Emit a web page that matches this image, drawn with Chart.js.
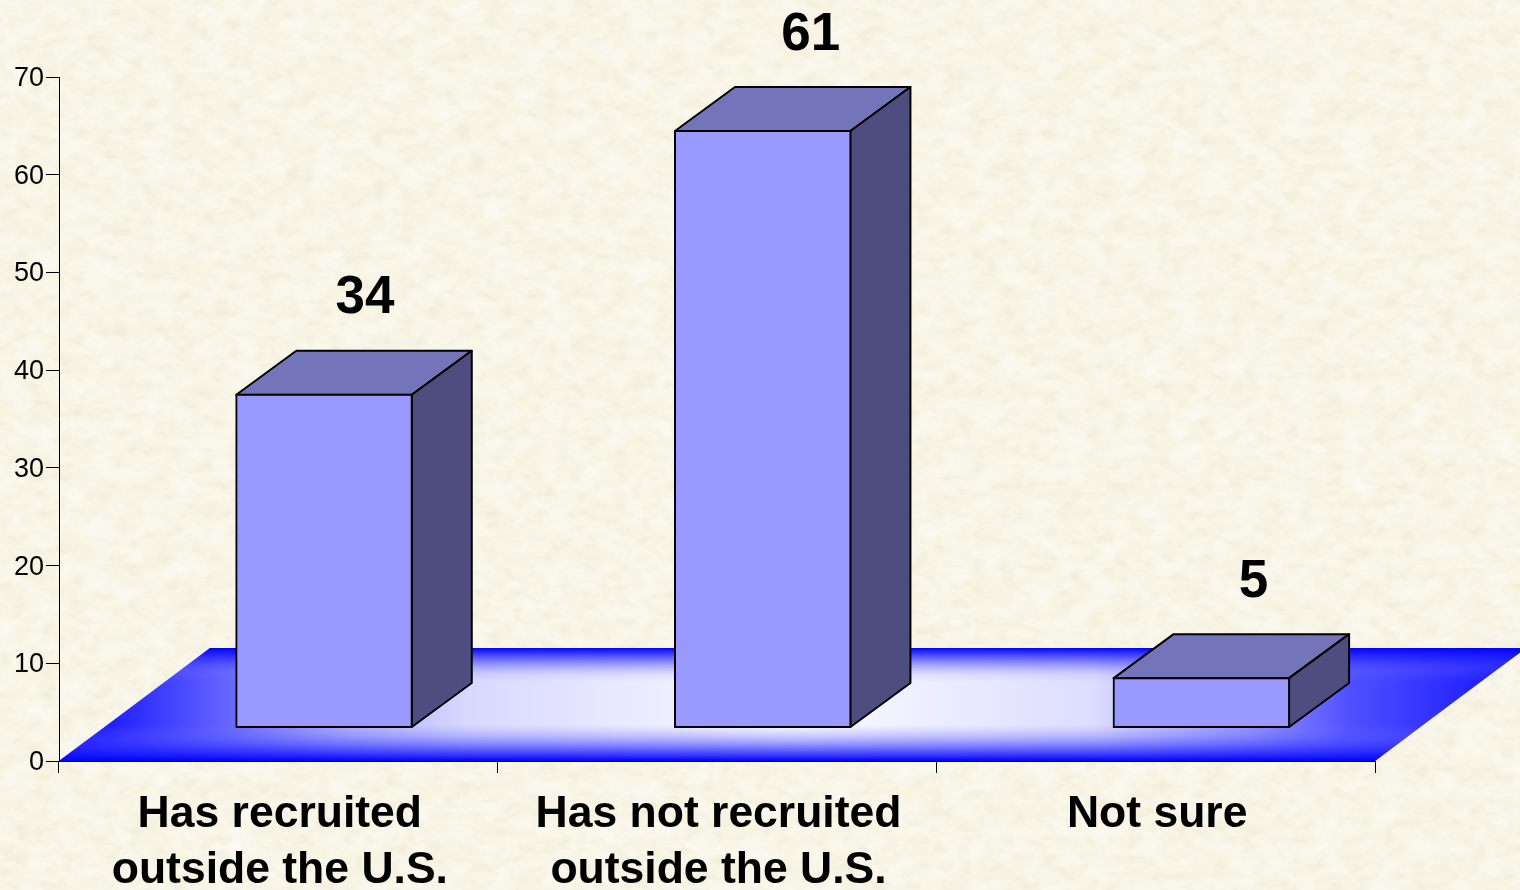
<!DOCTYPE html>
<html>
<head>
<meta charset="utf-8">
<title>Recruiting outside the U.S.</title>
<script src="https://cdn.jsdelivr.net/npm/chart.js@4/dist/chart.umd.min.js"></script>
<style>
    html, body { margin: 0; padding: 0; width: 1520px; height: 890px; overflow: hidden; background-color: #f8f5e5; }
    #paper { position: absolute; left: 0; top: 0; }
    #recruit_chart { position: absolute; left: 0; top: 0; }
</style>
</head>
<body>
<!-- paper texture behind the chart -->
<svg id="paper" width="1520" height="890" xmlns="http://www.w3.org/2000/svg">
    <filter id="mottle" x="0" y="0" width="100%" height="100%">
        <feTurbulence type="fractalNoise" baseFrequency="0.035 0.05" numOctaves="4" seed="7"/>
        <feColorMatrix type="matrix" values="0 0 0 0 1  0 0 0 0 1  0 0 0 0 0.98  1.1 0 0 0 -0.42"/>
    </filter>
    <filter id="grain" x="0" y="0" width="100%" height="100%">
        <feTurbulence type="fractalNoise" baseFrequency="0.07 0.11" numOctaves="3" seed="21"/>
        <feColorMatrix type="matrix" values="0 0 0 0 0.76  0 0 0 0 0.72  0 0 0 0 0.58  0 0.7 0 0 -0.28"/>
    </filter>
    <rect width="1520" height="890" fill="#f8f5e5"/>
    <rect width="1520" height="890" filter="url(#grain)"/>
    <rect width="1520" height="890" filter="url(#mottle)"/>
</svg>
<canvas id="recruit_chart" width="1520" height="890"></canvas>
<script>
// Values
const categories = [
    ["Has recruited", "outside the U.S."],
    ["Has not recruited", "outside the U.S."],
    "Not sure",
];
const values = [34, 61, 5];
const yMin = 0;
const yMax = 70;
const yStep = 10;

// Pseudo 3D look
const frontLift = 34; // front of the bars stands above the axis line
const frontShift = 45.7;
const depthX = 60;
const depthY = 44;
const floorDepthX = 151;
const floorDepthY = 113;
const labelShift = [41, 48, 52];
const labelRise = 52;

const plotHeight = 684;
const liftUnits = (frontLift / plotHeight) * (yMax - yMin);

// Floor under the bars, and the shape of each box around its front face
const box3d = {
    id: "box3d",
    beforeDraw(chart) {
        const ctx = chart.ctx;
        const left = chart.scales.x.left;
        const right = chart.scales.x.right;
        const bottom = chart.scales.y.getPixelForValue(0);
        const back = bottom - floorDepthY;

        ctx.save();
        ctx.beginPath();
        ctx.moveTo(left, bottom);
        ctx.lineTo(right, bottom);
        ctx.lineTo(right + floorDepthX, back);
        ctx.lineTo(left + floorDepthX, back);
        ctx.closePath();
        ctx.clip();

        const across = ctx.createLinearGradient(left, 0, right + floorDepthX, 0);
        across.addColorStop(0, "#0000ff");
        across.addColorStop(0.1, "#5858ff");
        across.addColorStop(0.155, "#8a8aff");
        across.addColorStop(0.2, "#b0b0ff");
        across.addColorStop(0.28, "#d8d8ff");
        across.addColorStop(0.5, "#fcfcff");
        across.addColorStop(0.705, "#dcdcff");
        across.addColorStop(0.815, "#9090ff");
        across.addColorStop(0.88, "#5050ff");
        across.addColorStop(1, "#1010ff");
        ctx.fillStyle = across;
        ctx.fillRect(left, back, right + floorDepthX - left, floorDepthY);

        const down = ctx.createLinearGradient(0, back, 0, bottom);
        down.addColorStop(0, "rgba(0,0,255,1)");
        down.addColorStop(0.106, "rgba(40,40,255,0.6)");
        down.addColorStop(0.24, "rgba(120,120,255,0.12)");
        down.addColorStop(0.3, "rgba(120,120,255,0)");
        down.addColorStop(0.68, "rgba(120,120,255,0)");
        down.addColorStop(0.78, "rgba(90,90,255,0.3)");
        down.addColorStop(0.9, "rgba(40,40,255,0.7)");
        down.addColorStop(1, "rgba(0,0,255,1)");
        ctx.fillStyle = down;
        ctx.fillRect(left, back, right + floorDepthX - left, floorDepthY);
        ctx.restore();
    },
    beforeDatasetDraw(chart, args) {
        const ctx = chart.ctx;
        ctx.save();
        ctx.translate(frontShift, 0);
        ctx.strokeStyle = "#000000";
        ctx.lineWidth = 2;
        ctx.lineJoin = "round";
        args.meta.data.forEach((bar) => {
            const half = bar.width / 2;
            const x0 = bar.x - half;
            const x1 = bar.x + half;
            const top = bar.y;
            const base = bar.base;

            // top face
            ctx.beginPath();
            ctx.moveTo(x0, top);
            ctx.lineTo(x0 + depthX, top - depthY);
            ctx.lineTo(x1 + depthX, top - depthY);
            ctx.lineTo(x1, top);
            ctx.closePath();
            ctx.fillStyle = "#7474ba";
            ctx.fill();
            ctx.stroke();

            // right face
            ctx.beginPath();
            ctx.moveTo(x1, top);
            ctx.lineTo(x1 + depthX, top - depthY);
            ctx.lineTo(x1 + depthX, base - depthY);
            ctx.lineTo(x1, base);
            ctx.closePath();
            ctx.fillStyle = "#4d4d7f";
            ctx.fill();
            ctx.stroke();
        });
    },
    afterDatasetDraw(chart) {
        chart.ctx.restore();
    },
    afterDatasetsDraw(chart) {
        const ctx = chart.ctx;
        ctx.save();
        ctx.fillStyle = "#000000";
        ctx.font = "bold 53px 'Liberation Sans', Arial, sans-serif";
        ctx.textAlign = "center";
        ctx.textBaseline = "middle";
        chart.getDatasetMeta(0).data.forEach((bar, i) => {
            ctx.fillText(String(values[i]), bar.x + frontShift + labelShift[i], bar.y - depthY - labelRise);
        });
        ctx.restore();
    },
};

var ctxRecruit = document.getElementById("recruit_chart").getContext("2d");

new Chart(ctxRecruit, {
    type: "bar",
    data: {
        labels: categories,
        datasets: [
            {
                data: values,
                yAxisID: "yFront",
                backgroundColor: "#9999ff",
                borderColor: "#000000",
                borderWidth: 2,
                borderSkipped: false,
                inflateAmount: 1,
                barPercentage: 0.4,
                categoryPercentage: 1,
                clip: false,
            },
        ],
    },
    options: {
        responsive: false,
        animation: false,
        layout: { padding: { top: 77, right: 145, bottom: 0, left: 0 } },
        plugins: {
            legend: { display: false },
            tooltip: { enabled: false },
        },
        scales: {
            x: {
                afterFit(axis) {
                    axis.height = 129;
                },
                border: { color: "#000000", width: 1 },
                grid: {
                    drawOnChartArea: false,
                    drawTicks: true,
                    tickLength: 12,
                    color: "#000000",
                },
                ticks: {
                    color: "#000000",
                    maxRotation: 0,
                    padding: 14,
                    labelOffset: 1.5,
                    font: {
                        family: "'Liberation Sans', Arial, sans-serif",
                        size: 44.5,
                        weight: "bold",
                        lineHeight: 1.26,
                    },
                },
            },
            y: {
                min: yMin,
                max: yMax,
                afterFit(axis) {
                    axis.width = 59;
                },
                border: { color: "#000000", width: 1 },
                grid: {
                    drawOnChartArea: false,
                    drawTicks: true,
                    tickLength: 13,
                    color: "#000000",
                },
                ticks: {
                    stepSize: yStep,
                    color: "#000000",
                    padding: 2,
                    labelOffset: 1.5,
                    font: {
                        family: "'Liberation Sans', Arial, sans-serif",
                        size: 27,
                    },
                },
            },
            // same scale as y, moved up to the front edge of the bars
            yFront: {
                display: false,
                min: yMin - liftUnits,
                max: yMax - liftUnits,
            },
        },
    },
    plugins: [box3d],
});
</script>
</body>
</html>
